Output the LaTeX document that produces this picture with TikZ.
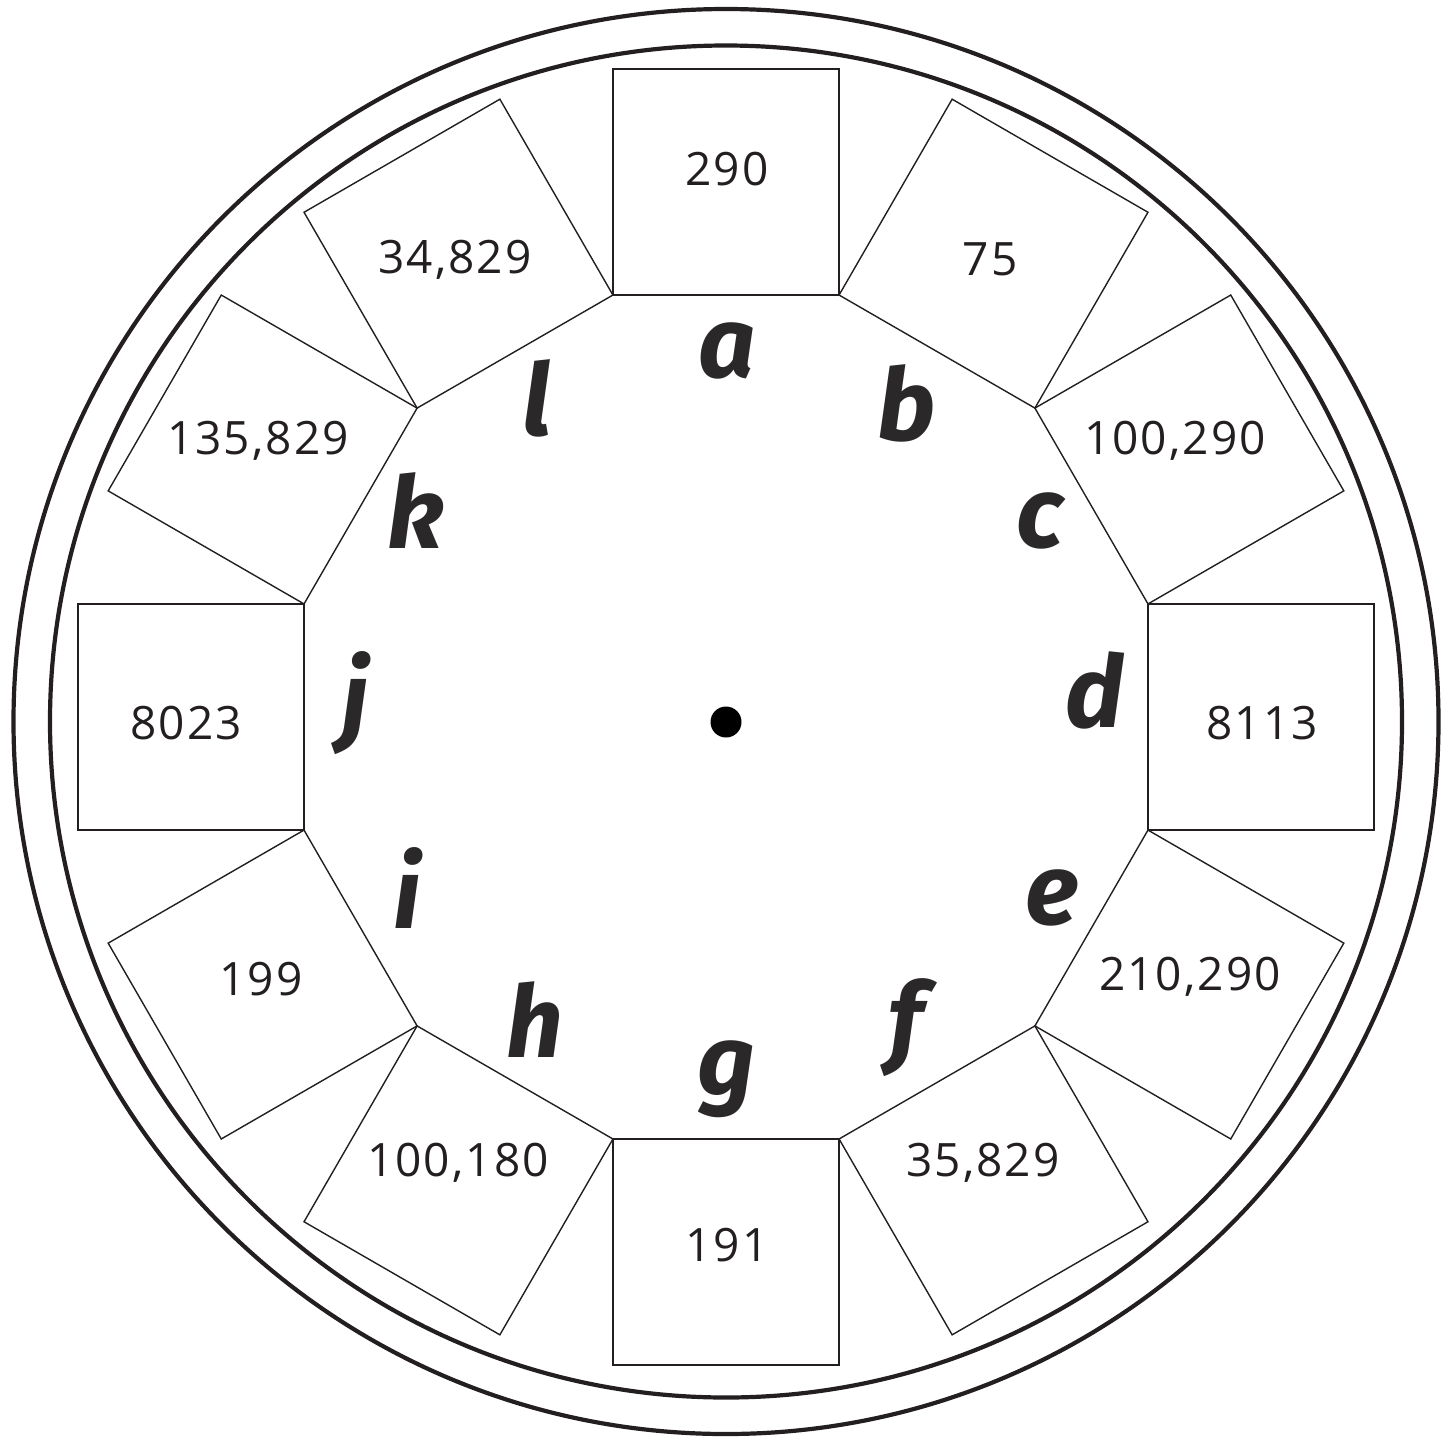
\documentclass[tikz,border=0pt]{standalone}
\usepackage{fontspec}
\setmainfont{Open Sans}[LetterSpace=4.5]
\newfontfamily\letfont{Fira Sans}
\usetikzlibrary{calc}
\definecolor{ink}{HTML}{231F20}
\definecolor{letink}{HTML}{2A2829}
\tikzset{
  ring/.style={draw=ink, line width=4.2pt},
  tile/.style={draw=ink, line width=1.4pt, line join=miter},
  numlbl/.style={inner sep=0pt, text=ink, font=\fontsize{46}{50}\selectfont},
  letlbl/.style={inner sep=0pt, text=letink, font=\letfont\bfseries\itshape\fontsize{100}{110}\selectfont},
}
\begin{document}
\begin{tikzpicture}[x=1pt,y=-1pt]
\useasboundingbox (0,0) rectangle (1456,1441);
\coordinate (C) at (726,717);
\coordinate (O) at (726,721.5);
\draw[ring] (O) circle (712.5);
\draw[ring] (O) circle (676);
\fill[black] (726,722) circle (15.5);
\pgfmathsetmacro{\R}{422/cos(15)}
\pgfmathsetmacro{\S}{2*422*tan(15)}
\foreach \k in {0,...,11}{
  \pgfmathsetmacro{\phi}{-90+30*\k}
  \coordinate (p\k a) at ($(C)+(\phi-15:\R)$);
  \coordinate (p\k b) at ($(C)+(\phi+15:\R)$);
  \coordinate (p\k c) at ($(p\k b)+(\phi:\S)$);
  \coordinate (p\k d) at ($(p\k a)+(\phi:\S)$);
  \draw[tile] (p\k a) -- (p\k b) -- (p\k c) -- (p\k d) -- cycle;
}
% numbers
\node[numlbl] (na) at (727,169) {290};
\node[numlbl] (nb) at (990,259) {75};
\node[numlbl] (nc) at (1175,441) {100,290};
\node[numlbl] (nd) at (1262,723) {8113};
\node[numlbl] (ne) at (1190,977) {210,290};
\node[numlbl] (nf) at (983,1163) {35,829};
\node[numlbl] (ng) at (727,1245) {191};
\node[numlbl] (nh) at (458,1163) {100,180};
\node[numlbl] (ni) at (261,979) {199};
\node[numlbl] (nj) at (186,723) {8023};
\node[numlbl] (nk) at (258,441) {135,829};
\node[numlbl] (nl) at (455,260) {34,829};
% letters
\node[letlbl] (la) at (727,351) {a};
\node[letlbl] (lb) at (907,403) {b};
\node[letlbl] (lc) at (1040,521) {c};
\node[letlbl] (ld) at (1095,690) {d};
\node[letlbl] (le) at (1052,898) {e};
\node[letlbl] (lf) at (906,1028) {f};
\node[letlbl] (lg) at (726,1079) {g};
\node[letlbl] (lh) at (535,1020) {h};
\node[letlbl] (li) at (407,888) {i};
\node[letlbl] (lj) at (355,703) {j};
\node[letlbl] (lk) at (416,511) {k};
\node[letlbl] (ll) at (537,398) {l};
\end{tikzpicture}
\end{document}
